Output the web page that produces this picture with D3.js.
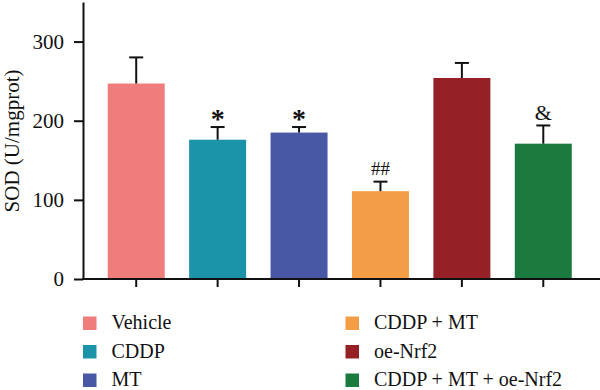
<!DOCTYPE html>
<html><head><meta charset="utf-8">
<script src="https://cdn.jsdelivr.net/npm/d3@7/dist/d3.min.js"></script>
<style>body{margin:0;background:#fff}svg{display:block}</style>
</head><body><svg id="c" width="600" height="390"></svg>
<script>
const categories = ["Vehicle","CDDP","MT","CDDP + MT","oe-Nrf2","CDDP + MT + oe-Nrf2"];
const means = [247, 176, 185, 111, 254, 171];
const errUpper = [280, 192, 192, 123, 273, 194];
const marks = ["", "*", "*", "##", "", "&"];
const colors = ["#EE7D7C","#1B93A9","#4858A5","#F39E47","#952127","#1B7B3F"];
const yTicks = [0,100,200,300];
const yLabel = "SOD (U/mgprot)";

const svg = d3.select("#c");
const font = "'Liberation Serif','Times New Roman',serif";
const axisX = 83;
const y = d3.scaleLinear().domain([0,350]).range([279,2]);
const x = d3.scaleBand().domain(categories).range([95.5,584]).paddingInner(0.3).paddingOuter(0.15);

const g = svg.append("g");
g.selectAll("rect.bar").data(categories).join("rect")
  .attr("x", d=>x(d)).attr("width", x.bandwidth())
  .attr("y", (d,i)=>y(means[i])).attr("height",(d,i)=>y(0)-y(means[i]))
  .attr("fill",(d,i)=>colors[i]);
const cap = 7;
const markStyle = {"*":{size:28,off:-1,w:"bold"},"##":{size:19,off:7,w:"normal"},"&":{size:22,off:5.5,w:"normal"}};
categories.forEach((c,i)=>{
  const cx = x(c)+x.bandwidth()/2;
  g.append("line").attr("x1",cx).attr("x2",cx).attr("y1",y(means[i])).attr("y2",y(errUpper[i]))
    .attr("stroke","#111").attr("stroke-width",2);
  g.append("line").attr("x1",cx-cap).attr("x2",cx+cap).attr("y1",y(errUpper[i])).attr("y2",y(errUpper[i]))
    .attr("stroke","#111").attr("stroke-width",2);
  if(marks[i]){
    const s = markStyle[marks[i]];
    g.append("text").attr("x",cx).attr("y",y(errUpper[i])-s.off)
      .attr("text-anchor","middle").attr("font-family",font).attr("font-weight",s.w)
      .attr("font-size", s.size).attr("fill","#111").text(marks[i]);
  }
});
// y axis
const ya = svg.append("g").attr("transform",`translate(${axisX},0)`)
  .call(d3.axisLeft(y).tickValues(yTicks).tickSize(9).tickPadding(10).tickSizeOuter(0));
ya.select(".domain").attr("stroke","#111").attr("stroke-width",2);
ya.selectAll(".tick line").attr("stroke","#111").attr("stroke-width",2);
ya.selectAll(".tick text").attr("font-family",font).attr("font-size",21).attr("fill","#111");
// x axis
const xa = svg.append("g").attr("transform",`translate(0,${y(0)})`)
  .call(d3.axisBottom(x).tickSize(8).tickSizeOuter(0).tickFormat(""));
xa.select(".domain").remove();
xa.selectAll(".tick line").attr("stroke","#111").attr("stroke-width",2);
svg.append("line").attr("x1",axisX-1).attr("x2",600).attr("y1",y(0)).attr("y2",y(0))
  .attr("stroke","#111").attr("stroke-width",2);
// y label
const yl = svg.append("text").attr("transform",`translate(18.5,141) rotate(-90)`)
  .attr("text-anchor","middle").attr("font-family",font).attr("font-size",20).attr("fill","#111")
  .text(yLabel);
const len = yl.node().getComputedTextLength();
yl.attr("font-size", Math.min(21, 20*148/len));
// legend
const leg = svg.append("g");
categories.forEach((c,i)=>{
  const col = Math.floor(i/3), row = i%3;
  const lx = col===0?83:345.5, base = 329 + row*28.5;
  leg.append("rect").attr("x",lx).attr("y",base-12.5).attr("width",13.5).attr("height",13.5).attr("fill",colors[i]);
  leg.append("text").attr("x",lx+28.5).attr("y",base)
    .attr("font-family",font).attr("font-size",20).attr("fill","#111").text(c);
});
</script></body></html>
